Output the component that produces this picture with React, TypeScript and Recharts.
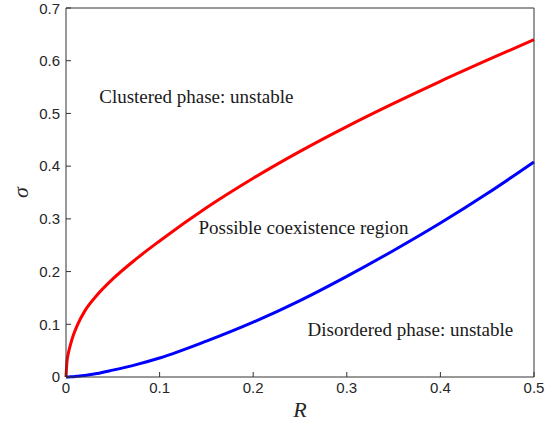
import { LineChart, Line, XAxis, YAxis, ReferenceDot } from 'recharts';

// R grid shared by both boundaries
const rValues = [0, 0.001, 0.003, 0.005, 0.008, 0.0125, 0.02, 0.033, 0.05, 0.075, 0.1, 0.15, 0.2, 0.25, 0.3, 0.35, 0.4, 0.45, 0.5];
// upper boundary (red): clustered phase becomes unstable above
const clusteredSigma = [0, 0.028, 0.049, 0.063, 0.08, 0.1, 0.125, 0.155, 0.186, 0.224, 0.258, 0.321, 0.377, 0.428, 0.475, 0.519, 0.561, 0.601, 0.64];
// lower boundary (blue): disordered phase becomes unstable below
const disorderedSigma = [0, 0, 0.0001, 0.0003, 0.0007, 0.0015, 0.003, 0.0065, 0.013, 0.0235, 0.036, 0.068, 0.104, 0.145, 0.191, 0.24, 0.292, 0.348, 0.408];

const xTicks = [0, 0.1, 0.2, 0.3, 0.4, 0.5];
const yTicks = [0, 0.1, 0.2, 0.3, 0.4, 0.5, 0.6, 0.7];

const annotations = [
  { R: 0.0355, sigma: 0.533, text: 'Clustered phase: unstable' },
  { R: 0.1415, sigma: 0.283, text: 'Possible coexistence region' },
  { R: 0.258, sigma: 0.09, text: 'Disordered phase: unstable' },
];

const chartData = rValues.map((R, i) => ({
  R,
  upper: clusteredSigma[i],
  lower: disorderedSigma[i],
}));

const AXIS = '#333333';
const tickStyle = { fontFamily: '"Liberation Sans", Arial, sans-serif', fontSize: 15, fill: '#262626' };

export default function App() {
  return (
    <div style={{ position: 'absolute', left: 0, top: 0, background: '#fff' }}>
      <LineChart width={557} height={427} data={chartData} margin={{ top: 7, right: 22, bottom: 0, left: 0 }}>
        <XAxis
          xAxisId="bottom"
          dataKey="R"
          type="number"
          domain={[0, 0.5]}
          ticks={xTicks}
          height={50}
          stroke={AXIS}
          tickSize={-5}
          tickMargin={10}
          tick={tickStyle}
          label={{
            content: ({ viewBox }: any) => (
              <text
                x={viewBox.x + viewBox.width / 2}
                y={viewBox.y + 40}
                textAnchor="middle"
                style={{ fontFamily: '"Liberation Serif", serif', fontStyle: 'italic', fontSize: 22, fill: '#262626' }}
              >
                R
              </text>
            ),
          }}
        />
        {/* box top edge with inward ticks */}
        <XAxis
          xAxisId="top"
          dataKey="R"
          type="number"
          orientation="top"
          domain={[0, 0.5]}
          ticks={xTicks}
          height={1}
          stroke={AXIS}
          tickSize={-5}
          tick={false}
        />
        <YAxis
          yAxisId="left"
          type="number"
          domain={[0, 0.7]}
          ticks={yTicks}
          width={66}
          stroke={AXIS}
          tickSize={-5}
          tickMargin={11}
          tick={tickStyle}
          label={{
            content: ({ viewBox }: any) => {
              const cx = viewBox.x + 20;
              const cy = viewBox.y + viewBox.height / 2;
              return (
                <text
                  x={cx}
                  y={cy}
                  textAnchor="middle"
                  dominantBaseline="central"
                  transform={`rotate(-90 ${cx} ${cy})`}
                  style={{ fontFamily: '"Liberation Serif", serif', fontStyle: 'italic', fontSize: 22, fill: '#262626' }}
                >
                  σ
                </text>
              );
            },
          }}
        />
        {/* box right edge with inward ticks */}
        <YAxis
          yAxisId="right"
          type="number"
          orientation="right"
          domain={[0, 0.7]}
          ticks={yTicks}
          width={1}
          stroke={AXIS}
          tickSize={-5}
          tick={false}
        />
        <Line
          xAxisId="bottom"
          yAxisId="left"
          type="monotone"
          dataKey="upper"
          stroke="#ff0000"
          strokeWidth={3}
          dot={false}
          isAnimationActive={false}
        />
        <Line
          xAxisId="bottom"
          yAxisId="left"
          type="monotone"
          dataKey="lower"
          stroke="#0000ff"
          strokeWidth={3}
          dot={false}
          isAnimationActive={false}
        />
        {annotations.map((a) => (
          <ReferenceDot
            key={a.text}
            xAxisId="bottom"
            yAxisId="left"
            x={a.R}
            y={a.sigma}
            r={0}
            fill="none"
            stroke="none"
            label={{
              content: ({ viewBox }: any) => (
                <text
                  x={viewBox.x}
                  y={viewBox.y}
                  dominantBaseline="central"
                  style={{ fontFamily: '"Liberation Serif", "Times New Roman", serif', fontSize: 19, fill: '#1a1a1a' }}
                >
                  {a.text}
                </text>
              ),
            }}
          />
        ))}
      </LineChart>
    </div>
  );
}
